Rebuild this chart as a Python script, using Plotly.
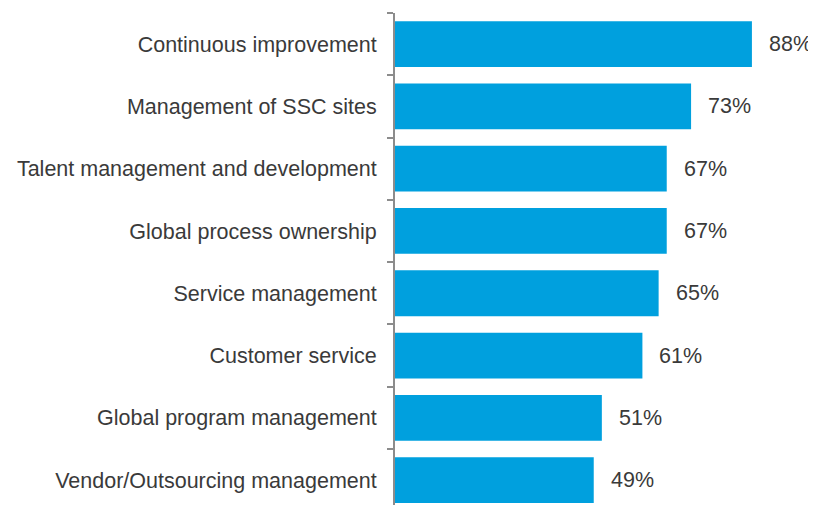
import plotly.graph_objects as go

# Data (top to bottom)
categories = [
    "Continuous improvement",
    "Management of SSC sites",
    "Talent management and development",
    "Global process ownership",
    "Service management",
    "Customer service",
    "Global program management",
    "Vendor/Outsourcing management",
]
values = [88, 73, 67, 67, 65, 61, 51, 49]

BAR_COLOR = "#00A0DE"
TEXT_COLOR = "#3a3a3a"
AXIS_COLOR = "#8c8c8c"
FONT = "Liberation Sans, Arial, sans-serif"

fig = go.Figure()
fig.add_trace(go.Bar(
    x=values, y=categories, orientation="h",
    marker=dict(color=BAR_COLOR, line=dict(width=0)),
    width=0.735,
    hoverinfo="x+y",
))

# value labels to the right of each bar
for cat, v in zip(categories, values):
    fig.add_annotation(
        x=v, y=cat, text=f"{v}%", showarrow=False,
        xanchor="left", xshift=15,
        font=dict(family=FONT, size=21.5, color=TEXT_COLOR),
    )

# the page body has an 8px margin, so the figure is a bit smaller than the window
fig.update_layout(
    width=808, height=497,
    margin=dict(l=387, r=0, t=5, b=0),
    plot_bgcolor="white", paper_bgcolor="white",
    showlegend=False,
    font=dict(family=FONT, size=21.5, color=TEXT_COLOR),
)

fig.update_xaxes(
    range=[0, 103.8], visible=False, showgrid=False, zeroline=False,
)
fig.update_yaxes(
    type="category",
    categoryorder="array", categoryarray=categories,
    range=[7.40, -0.5],
    showline=True, linecolor=AXIS_COLOR, linewidth=2,
    ticks="outside", tickson="boundaries", ticklen=6,
    tickcolor=AXIS_COLOR, tickwidth=1.5,
    ticklabelstandoff=12,
    showgrid=False, zeroline=False, automargin=False,
    tickfont=dict(family=FONT, size=21.5, color=TEXT_COLOR),
)

fig.write_html("out.html")
